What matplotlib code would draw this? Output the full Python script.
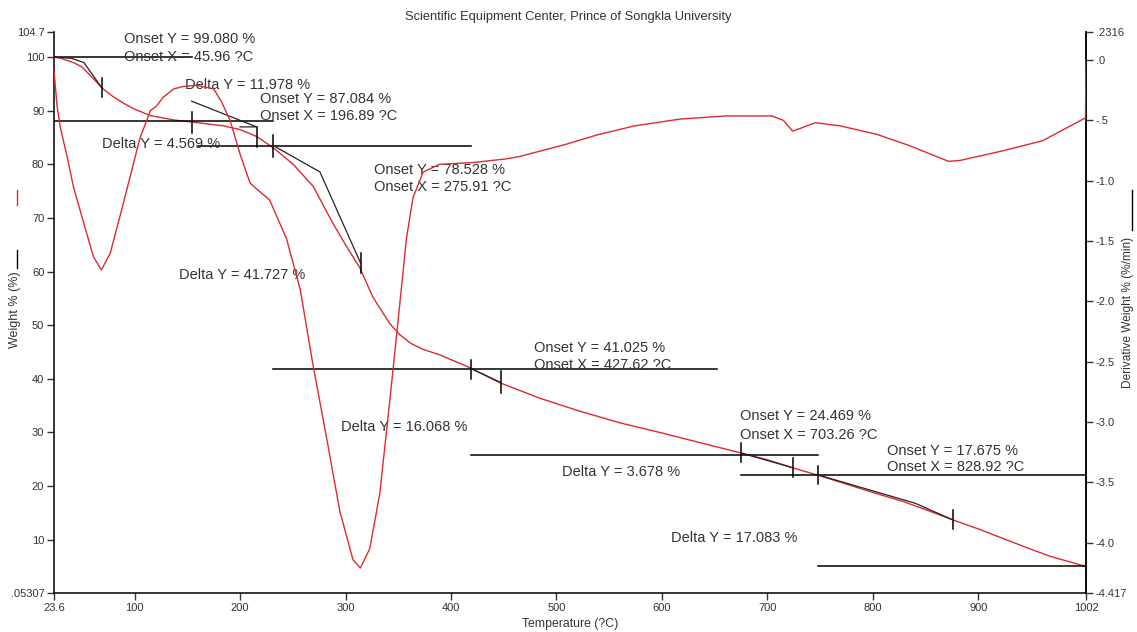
import matplotlib
matplotlib.use("Agg")
import matplotlib.pyplot as plt

plt.rcParams['font.family'] = ['Liberation Sans', 'DejaVu Sans']

# ---------------- data ----------------
title = "Scientific Equipment Center, Prince of Songkla University"
x_label = "Temperature (?C)"
y_label = "Weight % (%)"
y2_label = "Derivative Weight % (%/min)"

x_ticks = [23.6, 100, 200, 300, 400, 500, 600, 700, 800, 900, 1002]
x_tick_labels = ["23.6", "100", "200", "300", "400", "500", "600", "700", "800", "900", "1002"]
y_ticks = [0.05307, 10, 20, 30, 40, 50, 60, 70, 80, 90, 100, 104.7]
y_tick_labels = [".05307", "10", "20", "30", "40", "50", "60", "70", "80", "90", "100", "104.7"]
y2_ticks = [0.2316, 0.0, -0.5, -1.0, -1.5, -2.0, -2.5, -3.0, -3.5, -4.0, -4.417]
y2_tick_labels = [".2316", ".0", "-.5", "-1.0", "-1.5", "-2.0", "-2.5", "-3.0", "-3.5", "-4.0", "-4.417"]

# TGA weight curve
tga_T = [23.6, 30, 42, 50, 58, 70, 80, 89.6, 100, 115, 137, 154.6, 184, 200, 215.8,
         231.5, 250.5, 269.4, 288, 300, 313.6, 326, 342, 351, 362, 373.5, 389, 417.7,
         446, 484, 520, 560, 600, 650, 674.6, 700, 724, 750, 800, 828.9, 850, 875.6,
         900, 950, 968, 1002]
tga_W = [100, 99.8, 99.0, 98.2, 96.6, 94.1, 92.6, 91.4, 90.3, 89.1, 88.3, 87.9, 87.2,
         86.5, 85.2, 83.1, 80.0, 75.9, 69.0, 65.0, 60.7, 55.2, 50.3, 48.3, 46.6, 45.5,
         44.5, 42.1, 39.3, 36.4, 34.1, 31.8, 29.9, 27.4, 26.2, 24.9, 23.4, 21.9, 18.8,
         17.1, 15.6, 13.7, 12.0, 8.2, 6.9, 5.0]

# DTG derivative curve
dtg_T = [23.6, 26.5, 29.6, 36, 42, 51.7, 61, 68.5, 77, 86, 96, 105, 115, 121, 127, 137,
         146, 159, 175, 182.6, 190.5, 200, 209.5, 215.8, 228, 244, 257, 269, 282, 294.6,
         307, 314, 323, 332.5, 342, 351, 357.7, 364, 373.5, 389, 421, 452, 465, 478,
         508.5, 539, 573.7, 617, 660.7, 704, 715, 724, 745.5, 769.4, 804, 834.6, 871.6,
         882.4, 921.6, 960.7, 1001.5, 1002]
dtg_V = [-0.09, -0.38, -0.56, -0.80, -1.05, -1.35, -1.63, -1.74, -1.60, -1.30, -0.96,
         -0.65, -0.42, -0.38, -0.31, -0.24, -0.22, -0.21, -0.24, -0.35, -0.50, -0.78,
         -1.02, -1.07, -1.16, -1.48, -1.90, -2.52, -3.13, -3.74, -4.14, -4.21, -4.05,
         -3.59, -2.82, -2.06, -1.48, -1.14, -0.93, -0.865, -0.85, -0.82, -0.80, -0.77,
         -0.70, -0.62, -0.547, -0.49, -0.464, -0.464, -0.50, -0.59, -0.52, -0.547,
         -0.617, -0.71, -0.84, -0.833, -0.756, -0.67, -0.48, 0.0]

# annotation baselines: (weight, T start, T end)
base_W = [100.0, 88.1, 83.5, 41.9, 25.8, 22.1, 5.0]
base_T0 = [23.6, 23.6, 160, 231.5, 418.6, 674.5, 747.5]
base_T1 = [154, 231.5, 419, 652, 748, 1002, 1002]

# marker ticks: (T, weight low, weight high)
mark_T = [68.8, 154.6, 215.7, 231.6, 314.5, 419, 447.4, 674.6, 724.2, 747.6, 875.6]
mark_lo = [92.6, 85.9, 83.3, 81.4, 59.7, 39.9, 37.4, 24.5, 21.7, 20.3, 12.0]
mark_hi = [96.1, 89.7, 87.0, 85.5, 63.4, 43.6, 41.4, 28.0, 25.2, 23.8, 15.5]

# tangent segments
tan1_T, tan1_W = [23.6, 40, 52, 68.8], [100, 99.8, 99.0, 94.3]
tan2_T, tan2_W = [154, 215.7, 200], [91.8, 87.0, 87.0]
tan3_T, tan3_W = [231.6, 275.7, 314.5], [83.5, 78.6, 61.5]
tan4_T, tan4_W = [419, 447.4], [41.9, 39.3]
tan5_T, tan5_W = [674.6, 724.2], [26.2, 23.4]
tan6_T, tan6_W = [747.6, 800, 840, 875.6], [22.1, 19.1, 16.8, 13.7]

# text annotations
ann_text = ["Onset Y = 99.080 %", "Onset X = 45.96 ?C", "Delta Y = 11.978 %",
            "Onset Y = 87.084 %", "Onset X = 196.89 ?C", "Delta Y = 4.569 %",
            "Onset Y = 78.528 %", "Onset X = 275.91 ?C", "Delta Y = 41.727 %",
            "Delta Y = 16.068 %", "Onset Y = 41.025 %", "Onset X = 427.62 ?C",
            "Onset Y = 24.469 %", "Onset X = 703.26 ?C", "Delta Y = 3.678 %",
            "Onset Y = 17.675 %", "Onset X = 828.92 ?C", "Delta Y = 17.083 %"]
ann_T = [90, 90, 147.8, 219, 219, 69, 327, 327, 142, 295.8, 478.7, 478.7,
         674, 674, 505.6, 812.9, 812.9, 609]
ann_W = [103.4, 100.0, 94.8, 92.2, 89.0, 83.8, 79.0, 75.7, 59.3, 31.0, 45.7, 42.6,
         33.1, 29.6, 22.7, 26.6, 23.5, 10.3]

# ---------------- plot ----------------
RED = '#dc2a30'
fig = plt.figure(figsize=(11.37, 6.32), dpi=100)
ax = fig.add_axes([54/1137, 39/632, (1086-54)/1137, (593-32)/632])
ax2 = ax.twinx()

ax.set_xlim(23.6, 1002)
ax.set_ylim(0.05307, 104.7)
ax2.set_ylim(-4.417, 0.2316)

ax.plot(tga_T, tga_W, color=RED, lw=1.0, zorder=3)
ax2.plot(dtg_T, dtg_V, color=RED, lw=1.0, zorder=3)

for w, t0, t1 in zip(base_W, base_T0, base_T1):
    ax.plot([t0, t1], [w, w], color='black', lw=1.1, zorder=4)
for t, lo, hi in zip(mark_T, mark_lo, mark_hi):
    ax.plot([t, t], [lo, hi], color='black', lw=1.1, zorder=4)
for tt, ww in [(tan1_T, tan1_W), (tan2_T, tan2_W), (tan3_T, tan3_W),
               (tan4_T, tan4_W), (tan5_T, tan5_W), (tan6_T, tan6_W)]:
    ax.plot(tt, ww, color='#222222', lw=0.9, zorder=4)

for s, t, w in zip(ann_text, ann_T, ann_W):
    ax.text(t, w, s, fontsize=10.5, color='#333333', ha='left', va='center', zorder=5)

ax.set_xticks(x_ticks)
ax.set_xticklabels(x_tick_labels)
ax.set_yticks(y_ticks)
ax.set_yticklabels(y_tick_labels)
ax2.set_yticks(y2_ticks)
ax2.set_yticklabels(y2_tick_labels)

for a in (ax, ax2):
    a.spines['top'].set_visible(False)
    a.tick_params(labelsize=8, length=5, width=1, colors='#333333', direction='out', pad=2)
    for sp in a.spines.values():
        sp.set_linewidth(1.1)
ax2.spines['left'].set_visible(False)
ax2.spines['bottom'].set_visible(False)

fig.text(568/1137, 1 - 17/632, title, fontsize=9.3, ha='center', va='center', color='#333333')
fig.text(570/1137, 1 - 624/632, x_label, fontsize=8.8, ha='center', va='center', color='#333333')
fig.text(15/1137, 1 - 310/632, y_label, fontsize=9, rotation=90, ha='center', va='center', color='#333333')
fig.text(1128/1137, 1 - 312/632, y2_label, fontsize=8.6, rotation=90, ha='center', va='center', color='#333333')
# short legend dashes beside axis titles
fig.add_artist(plt.Line2D([17/1137, 17/1137], [1 - 250/632, 1 - 268/632], color='black', lw=1))
fig.add_artist(plt.Line2D([17/1137, 17/1137], [1 - 190/632, 1 - 205/632], color=RED, lw=1))
fig.add_artist(plt.Line2D([1132/1137, 1132/1137], [1 - 190/632, 1 - 230/632], color='black', lw=1))

fig.savefig("out.png", dpi=100)
